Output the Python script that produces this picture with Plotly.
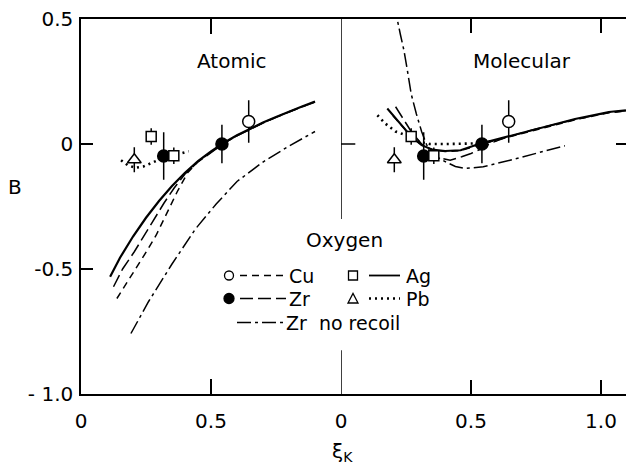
import plotly.graph_objects as go

# ---------------- data ----------------
# experimental points (same in both panels)
cu_x = [0.645]; cu_b = [0.09]; cu_err = [0.085]
zr_x = [0.318, 0.542]; zr_b = [-0.048, 0.0]; zr_err = [0.095, 0.077]
ag_x = [0.27, 0.357]; ag_b = [0.03, -0.047]; ag_err = [0.033, 0.033]
pb_x = [0.205]; pb_b = [-0.063]; pb_err = [0.05]

# Atomic panel curves
at_ag_x = [0.112, 0.15, 0.2, 0.25, 0.3, 0.35, 0.4, 0.45, 0.5, 0.55, 0.6, 0.65, 0.7, 0.75, 0.8, 0.85, 0.9]
at_ag_b = [-0.531, -0.455, -0.37, -0.295, -0.228, -0.168, -0.115, -0.068, -0.03, 0.005, 0.035, 0.062, 0.086, 0.108, 0.13, 0.15, 0.17]
at_zr_x = [0.125, 0.16, 0.205, 0.25, 0.282, 0.32, 0.357, 0.4, 0.45, 0.5, 0.55, 0.6, 0.7, 0.8, 0.9]
at_zr_b = [-0.571, -0.5, -0.431, -0.355, -0.298, -0.235, -0.178, -0.12, -0.072, -0.033, 0.003, 0.033, 0.084, 0.128, 0.168]
at_cu_x = [0.138, 0.18, 0.22, 0.255, 0.289, 0.33, 0.37, 0.41, 0.45, 0.5, 0.55, 0.6, 0.7, 0.8, 0.9]
at_cu_b = [-0.618, -0.55, -0.485, -0.425, -0.365, -0.28, -0.191, -0.115, -0.07, -0.032, 0.004, 0.034, 0.085, 0.129, 0.169]
at_nr_x = [0.192, 0.26, 0.35, 0.44, 0.52, 0.6, 0.7, 0.8, 0.9]
at_nr_b = [-0.758, -0.63, -0.48, -0.34, -0.24, -0.15, -0.072, -0.008, 0.05]
at_pb_x = [0.154, 0.18, 0.209, 0.24, 0.267, 0.31, 0.35, 0.388, 0.414]
at_pb_b = [-0.065, -0.085, -0.095, -0.09, -0.078, -0.058, -0.047, -0.036, -0.029]

# Molecular panel curves
mo_ag_x = [0.178, 0.22, 0.27, 0.31, 0.35, 0.4, 0.46, 0.53, 0.64, 0.75, 0.9, 1.03, 1.096]
mo_ag_b = [0.142, 0.09, 0.03, -0.005, -0.022, -0.028, -0.025, 0.0, 0.03, 0.062, 0.1, 0.128, 0.135]
mo_zr_x = [0.21, 0.237, 0.27, 0.31, 0.35, 0.39, 0.42, 0.464, 0.5, 0.534, 0.58, 0.64, 0.75, 0.9, 1.03, 1.096]
mo_zr_b = [0.149, 0.102, 0.05, 0.0, -0.035, -0.058, -0.065, -0.051, -0.038, -0.022, 0.005, 0.028, 0.06, 0.098, 0.126, 0.133]
mo_cu_x = [0.2, 0.24, 0.28, 0.32, 0.36, 0.4, 0.46, 0.53, 0.64, 0.75, 0.9, 1.03, 1.096]
mo_cu_b = [0.113, 0.068, 0.02, -0.01, -0.025, -0.03, -0.027, -0.003, 0.027, 0.059, 0.097, 0.125, 0.132]
mo_nr_x = [0.21, 0.216, 0.228, 0.242, 0.256, 0.27, 0.29, 0.31, 0.33, 0.36, 0.39, 0.41, 0.44, 0.476, 0.547, 0.65, 0.752, 0.861]
mo_nr_b = [0.56, 0.5, 0.44, 0.375, 0.29, 0.2, 0.12, 0.05, -0.005, -0.045, -0.065, -0.075, -0.09, -0.098, -0.091, -0.065, -0.038, -0.007]
mo_pb_x = [0.14, 0.17, 0.21, 0.263, 0.3, 0.34, 0.4, 0.45, 0.51, 0.56, 0.6]
mo_pb_b = [0.115, 0.082, 0.05, 0.03, 0.01, 0.0, 0.0, 0.0, 0.002, 0.008, 0.015]

y_tickvals = [0.5, 0, -0.5, -1.0]
y_ticktext = ["0.5", "0", "-0.5", "- 1.0"]

# ---------------- styles ----------------
FONT = "DejaVu Sans"
FS = 20
LFS = 19
K = "black"
DASH_CU = "7px,5px"
DASH_ZR = "13px,5px"
DASH_NR = "14px,4px,3px,4px"
DASH_PB = "2px,4px"

fig = go.Figure()

def curve(x, y, dash, width, ax):
    fig.add_trace(go.Scatter(x=x, y=y, mode="lines", xaxis=ax[0], yaxis=ax[1],
                             line=dict(color=K, width=width, dash=dash),
                             showlegend=False, hoverinfo="skip"))

def points(x, y, err, symbol, fill, size, ax):
    fig.add_trace(go.Scatter(x=x, y=y, mode="markers", xaxis=ax[0], yaxis=ax[1],
                             marker=dict(symbol=symbol, size=size, color=fill,
                                         line=dict(color=K, width=1.5)),
                             error_y=dict(type="data", array=err, visible=True,
                                          width=0, thickness=1.5, color=K),
                             showlegend=False, cliponaxis=False))

A = ("x", "y")
M = ("x2", "y2")
curve(at_nr_x, at_nr_b, DASH_NR, 1.5, A)
curve(at_cu_x, at_cu_b, DASH_CU, 1.5, A)
curve(at_zr_x, at_zr_b, DASH_ZR, 1.5, A)
curve(at_ag_x, at_ag_b, "solid", 2.2, A)
curve(at_pb_x, at_pb_b, DASH_PB, 2.6, A)

curve(mo_nr_x, mo_nr_b, DASH_NR, 1.5, M)
curve(mo_cu_x, mo_cu_b, DASH_CU, 1.5, M)
curve(mo_zr_x, mo_zr_b, DASH_ZR, 1.5, M)
curve(mo_ag_x, mo_ag_b, "solid", 2.0, M)
curve(mo_pb_x, mo_pb_b, DASH_PB, 2.6, M)

for ax in (A, M):
    points(cu_x, cu_b, cu_err, "circle", "white", 12, ax)
    points(zr_x, zr_b, zr_err, "circle", K, 12, ax)
    points(ag_x, ag_b, ag_err, "square", "white", 10, ax)
    points(pb_x, pb_b, pb_err, "triangle-up", "white", 12, ax)

# ---------------- layout ----------------
W, H = 626, 469
L, R, T, B = 81, 0, 19, 75
PW, PH = W - L - R, H - T - B
split = 260 / PW

def px(xp):
    return (xp - L) / PW

def py(yp):
    return (H - B - yp) / PH

axis_common = dict(showgrid=False, zeroline=False, linecolor=K, linewidth=1.5,
                   tickcolor=K, tickwidth=1.5, ticks="inside",
                   tickfont=dict(family=FONT, size=FS, color=K))

fig.update_layout(
    width=W, height=H, margin=dict(l=L, r=R, t=T, b=B),
    paper_bgcolor="white", plot_bgcolor="white", showlegend=False,
    font=dict(family=FONT, size=FS, color=K),
    xaxis=dict(domain=[0, split], range=[0, 1.0], anchor="y", showline=True,
               mirror="ticks", ticklen=15, tickvals=[0, 0.5], ticktext=["0", "0.5"],
               ticklabelstandoff=8, **axis_common),
    yaxis=dict(domain=[0, 1], range=[-1.0, 0.5], anchor="x", showline=True,
               ticklen=12, tickvals=y_tickvals, ticktext=y_ticktext,
               ticklabelstandoff=2, **axis_common),
    xaxis2=dict(domain=[split, 1], range=[0, PW * (1 - split) / 260], anchor="y2",
                showline=True, mirror="ticks", ticklen=14, tickvals=[0, 0.5, 1.0],
                ticktext=["0", "0.5", "1.0"], ticklabelstandoff=8, **axis_common),
    yaxis2=dict(domain=[0, 1], range=[-1.0, 0.5], anchor="x2", side="right",
                showline=False, ticklen=10, tickvals=[0], showticklabels=False,
                **axis_common),
)

shapes = []
# divider between panels and its ticks
shapes.append(dict(type="line", xref="x2", yref="y2", x0=0, x1=0, y0=0.5, y1=-0.3,
                   line=dict(color=K, width=1.5)))
shapes.append(dict(type="line", xref="x2", yref="y2", x0=0, x1=0, y0=-1.0, y1=-0.825,
                   line=dict(color=K, width=1.5)))
shapes.append(dict(type="line", xref="x2", yref="y2", x0=0, x1=0.055, y0=0, y1=0,
                   line=dict(color=K, width=1.5)))

# legend
def lline(x0, x1, y, dash, width=1.5):
    shapes.append(dict(type="line", xref="paper", yref="paper", x0=px(x0), x1=px(x1),
                       y0=py(y), y1=py(y), line=dict(color=K, width=width, dash=dash)))

r1, r2, r3 = 275.5, 298.5, 322.5
shapes.append(dict(type="circle", xref="paper", yref="paper", x0=px(224.5), x1=px(233.5),
                   y0=py(r1 + 4.5), y1=py(r1 - 4.5), line=dict(color=K, width=1.3),
                   fillcolor="white"))
shapes.append(dict(type="circle", xref="paper", yref="paper", x0=px(224), x1=px(234),
                   y0=py(r2 + 5), y1=py(r2 - 5), line=dict(color=K, width=1.3),
                   fillcolor=K))
shapes.append(dict(type="rect", xref="paper", yref="paper", x0=px(348.5), x1=px(357.5),
                   y0=py(r1 + 4.5), y1=py(r1 - 4.5), line=dict(color=K, width=1.3),
                   fillcolor="white"))
tri = "M {} {} L {} {} L {} {} Z".format(px(348), py(r2 + 4.5), px(358), py(r2 + 4.5),
                                         px(353), py(r2 - 5))
shapes.append(dict(type="path", xref="paper", yref="paper", path=tri,
                   line=dict(color=K, width=1.3), fillcolor="white"))
lline(240, 286, r1, DASH_CU)
lline(240, 286, r2, DASH_ZR)
lline(237, 284, r3, DASH_NR)
lline(369, 400, r1, "solid", 1.8)
lline(369, 400, r2, DASH_PB, 2.4)

fig.update_layout(shapes=shapes)

ann = []
def text(x, y, s, anchor="left", size=FS):
    ann.append(dict(xref="paper", yref="paper", x=px(x), y=py(y), text=s,
                    showarrow=False, xanchor=anchor, yanchor="middle", borderpad=0,
                    font=dict(family=FONT, size=size, color=K)))

text(231, 61, "Atomic", "center")
text(522, 61, "Molecular", "center")
text(344, 240, "Oxygen", "center")
text(288, r1, "Cu", size=LFS)
text(288, r2, "Zr", size=LFS)
text(285, r3, "Zr  no recoil", size=LFS)
text(405, r1, "Ag", size=LFS)
text(405, r2, "Pb", size=LFS)
text(15, 187, "B", "center")
text(342, 452, "ξ<sub>K</sub>", "center")
fig.update_layout(annotations=ann)

fig.write_html("out.html")
